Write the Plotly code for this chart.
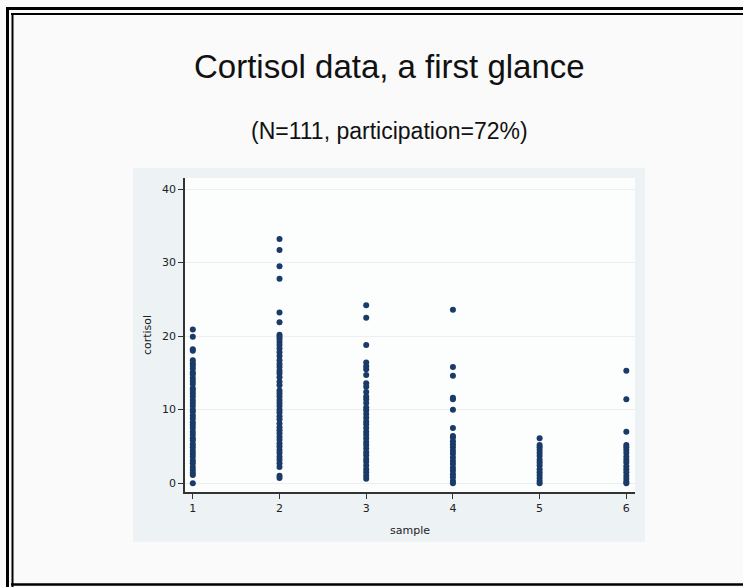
import plotly.graph_objects as go

# ---------------- data ----------------
samples = [1, 2, 3, 4, 5, 6]
s1 = [20.9, 19.9, 18.2, 18.0, 16.7, 16.3, 16.0, 15.6, 15.1, 14.8, 14.3, 13.9, 13.5, 12.9,
      12.6, 12.2, 11.8, 11.3, 10.9, 10.5, 10.0, 9.7, 9.2, 8.8, 8.3, 7.9, 7.5, 7.0, 6.6,
      6.1, 5.8, 5.3, 4.9, 4.4, 4.0, 3.6, 3.1, 2.7, 2.2, 1.8, 1.4, 1.1, 0.0]
s2 = [33.2, 31.7, 29.5, 27.8, 23.2, 21.9, 20.2, 19.9, 19.6, 19.2, 18.8, 18.3, 17.8, 17.3,
      16.7, 16.2, 15.8, 15.3, 14.9, 14.4, 13.8, 13.3, 12.6, 12.2, 11.8, 11.3, 10.9, 10.5,
      10.0, 9.6, 9.1, 8.7, 8.1, 7.6, 7.2, 6.8, 6.3, 5.9, 5.4, 5.0, 4.5, 4.1, 3.6, 3.2,
      2.7, 2.2, 1.0, 0.7]
s3 = [24.2, 22.5, 18.8, 16.4, 15.9, 15.5, 14.7, 13.6, 13.1, 12.4, 11.8, 11.4, 10.9, 10.3,
      9.9, 9.4, 8.9, 8.4, 8.0, 7.5, 7.0, 6.6, 6.1, 5.6, 5.2, 4.7, 4.2, 3.8, 3.3, 2.9,
      2.4, 1.9, 1.5, 1.0, 0.6]
s4 = [23.6, 15.8, 14.6, 11.6, 11.4, 10.0, 7.5, 6.4, 6.2, 5.7, 5.3, 4.9, 4.4, 4.0, 3.5,
      3.0, 2.6, 2.1, 1.7, 1.2, 0.8, 0.3, 0.0]
s5 = [6.1, 5.2, 4.9, 4.5, 4.1, 3.7, 3.2, 2.8, 2.4, 1.9, 1.5, 1.1, 0.7, 0.3, 0.0]
s6 = [15.3, 11.4, 7.0, 5.2, 4.9, 4.5, 4.1, 3.6, 3.2, 2.8, 2.3, 1.9, 1.5, 1.0, 0.6, 0.2, 0.0]
series = [s1, s2, s3, s4, s5, s6]
y_ticks = [0, 10, 20, 30, 40]

title_text = "Cortisol data, a first glance"
subtitle_text = "(N=111, participation=72%)"

# ---------------- layout geometry ----------------
W, H = 743, 587
L, R, T, B = 185, 108, 178, 95
PW, PH = W - L - R, H - T - B

SLIDE_BG = "#fafafa"
REGION_BG = "#edf2f5"
PLOT_BG = "#fcfdfd"


def fx(px):
    return (px - L) / PW


def fy(py):
    return (H - B - py) / PH


xs, ys = [], []
for s, vals in zip(samples, series):
    xs += [s] * len(vals)
    ys += vals

fig = go.Figure()
fig.add_trace(go.Scatter(
    x=xs, y=ys, mode="markers",
    marker=dict(size=6, color="#1a3a68", line=dict(width=0)),
    showlegend=False, hoverinfo="x+y",
))

shapes = []
# slide background around the bluish graph region (paper itself is the region colour)
gx0, gx1, gy0, gy1 = 133, 645, 168, 542
for (a, b, c, d) in [(-20, 770, -20, gy0), (-20, 770, gy1, 600),
                     (-20, gx0, gy0, gy1), (gx1, 770, gy0, gy1)]:
    shapes.append(dict(type="rect", xref="paper", yref="paper", layer="below",
                       x0=fx(a), x1=fx(b), y0=fy(d), y1=fy(c),
                       fillcolor=SLIDE_BG, line=dict(width=0)))
# slide double frame
frame = "#000000"
shapes += [
    dict(type="line", xref="paper", yref="paper", x0=fx(6), x1=fx(760), y0=fy(8.5), y1=fy(8.5),
         line=dict(color=frame, width=3)),
    dict(type="line", xref="paper", yref="paper", x0=fx(11), x1=fx(760), y0=fy(14), y1=fy(14),
         line=dict(color=frame, width=2)),
    dict(type="line", xref="paper", yref="paper", x0=fx(7.5), x1=fx(7.5), y0=fy(7), y1=fy(600),
         line=dict(color=frame, width=3)),
    dict(type="line", xref="paper", yref="paper", x0=fx(12.5), x1=fx(12.5), y0=fy(13), y1=fy(600),
         line=dict(color=frame, width=2)),
    dict(type="line", xref="paper", yref="paper", x0=fx(11), x1=fx(760), y0=fy(584.5), y1=fy(584.5),
         line=dict(color=frame, width=2.5)),
]

annotations = [
    dict(text=title_text, xref="paper", yref="paper", x=fx(389), y=fy(66),
         xanchor="center", yanchor="middle", showarrow=False,
         font=dict(family="Liberation Sans, Arial", size=33, color="#111111")),
    dict(text=subtitle_text, xref="paper", yref="paper", x=fx(389), y=fy(131),
         xanchor="center", yanchor="middle", showarrow=False,
         font=dict(family="Liberation Sans, Arial", size=23, color="#111111")),
]

axis_font = dict(family="DejaVu Sans, Verdana", size=11, color="#222222")

fig.update_layout(
    width=W, height=H,
    margin=dict(l=L, r=R, t=T, b=B, pad=0),
    paper_bgcolor=REGION_BG,
    plot_bgcolor=PLOT_BG,
    shapes=shapes,
    annotations=annotations,
    xaxis=dict(
        range=[0.91, 6.1], tickmode="array", tickvals=samples,
        ticktext=[str(s) for s in samples],
        showgrid=False, zeroline=False,
        showline=True, linecolor="#333333", linewidth=1.5,
        ticks="outside", ticklen=5, tickwidth=1.2, tickcolor="#333333",
        tickfont=axis_font,
        title=dict(text="sample", font=axis_font, standoff=12),
    ),
    yaxis=dict(
        range=[-1.2, 41.5], tickmode="array", tickvals=y_ticks,
        ticktext=[str(v) for v in y_ticks],
        showgrid=True, gridcolor="#eeeeee", gridwidth=1, zeroline=False,
        showline=True, linecolor="#333333", linewidth=1.5,
        ticks="outside", ticklen=5, tickwidth=1.2, tickcolor="#333333",
        tickfont=axis_font,
        title=dict(text="cortisol", font=axis_font, standoff=8),
    ),
)

fig.write_html(
    "out.html",
    config={"displayModeBar": False},
    post_script="document.body.style.margin='0';document.body.style.padding='0';"
                "document.body.style.overflow='hidden';",
)
